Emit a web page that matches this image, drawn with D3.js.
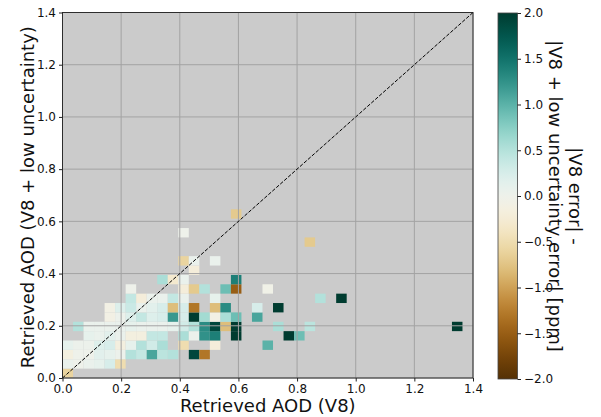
<!DOCTYPE html>
<html><head><meta charset="utf-8">
<script src="https://cdnjs.cloudflare.com/ajax/libs/d3/7.8.5/d3.min.js"></script>
<style>
html,body{margin:0;padding:0;background:#fff;}
svg{display:block;font-family:"DejaVu Sans",sans-serif;}
</style></head>
<body><svg id="c" width="601" height="417"></svg>
<script>
// ---- data: 2D bins (column index, row index, difference value) ----
const nBins = 39;          // bins of linspace(0, 1.4, 40)
const axisMax = 1.4;
const tickValues = [0.0, 0.2, 0.4, 0.6, 0.8, 1.0, 1.2, 1.4];
const cbTicks = [-2.0, -1.5, -1.0, -0.5, 0.0, 0.5, 1.0, 1.5, 2.0];
const xLabel = "Retrieved AOD (V8)";
const yLabel = "Retrieved AOD (V8 + low uncertainty)";
const cbLabel = ["|V8 error| -", "|V8 + low uncertainty error| [ppm]"];

const cellCol = [
 0,
 0,1,2,3,4,5,
 0,1,2,3,4,5,6,7,8,9,10,12,13,
 0,1,2,3,4,5,6,7,8,9,11,14,19,
 2,3,4,5,6,7,8,9,11,12,13,14,16,21,22,
 1,2,3,4,5,6,7,8,9,10,11,12,13,14,15,16,20,23,37,
 4,5,6,7,8,9,10,11,12,13,14,15,16,18,
 4,5,6,7,8,9,10,11,12,14,15,18,20,
 6,7,8,9,10,11,14,24,26,
 6,11,12,13,15,16,19,
 9,10,11,16,
 12,
 11,12,14,
 23,
 11,
 16
];
const cellRow = [
 0,
 1,1,1,1,1,1,
 2,2,2,2,2,2,2,2,2,2,2,2,2,
 3,3,3,3,3,3,3,3,3,3,3,3,3,
 4,4,4,4,4,4,4,4,4,4,4,4,4,4,4,
 5,5,5,5,5,5,5,5,5,5,5,5,5,5,5,5,5,5,5,
 6,6,6,6,6,6,6,6,6,6,6,6,6,6,
 7,7,7,7,7,7,7,7,7,7,7,7,7,
 8,8,8,8,8,8,8,8,8,
 9,9,9,9,9,9,9,
 10,10,10,10,
 11,
 12,12,12,
 14,
 15,
 17
];
const cellValue = [
 -0.6,
 0.05,0.0,0.05,0.1,0.25,-0.5,
 -0.15,0.0,0.0,0.15,0.1,0.02,0.5,0.4,1.1,0.45,0.5,1.9,-1.3,
 0.1,0.02,0.03,0.2,0.25,-0.15,0.1,0.5,0.3,0.55,-0.5,-0.2,1.0,
 0.1,0.05,0.15,0.05,-0.15,-0.15,0.4,0.4,0.55,0.02,1.25,1.4,2.0,2.0,0.9,
 0.5,0.05,0.05,0.05,0.05,0.1,0.05,0.05,0.05,0.1,0.3,0.5,1.3,1.9,-0.8,2.0,0.55,0.45,2.0,
 -0.1,0.03,0.2,0.4,0.2,0.25,1.2,0.25,2.0,0.6,-0.1,0.55,0.9,1.1,
 -0.1,0.2,0.35,0.05,0.15,0.25,-0.8,0.25,-1.3,-0.8,1.3,0.25,2.0,
 0.4,-0.2,0.05,0.05,0.4,0.05,0.1,0.5,2.0,
 0.0,-0.2,-0.7,0.5,0.9,-1.5,-0.05,
 0.55,-0.3,0.05,1.4,
 -0.2,
 -0.6,0.05,0.05,
 -0.7,
 0.0,
 -0.7
];

// ---- layout ----
const svg = d3.select("#c");
const L = 62.5, R = 473, T = 12.5, B = 378;
const x = d3.scaleLinear().domain([0, axisMax]).range([L, R]);
const y = d3.scaleLinear().domain([0, axisMax]).range([B, T]);
const color = d3.scaleSequential(d3.interpolateBrBG).domain([-2, 2]);
const edges = d3.range(nBins + 1).map(i => axisMax * i / nBins);

svg.append("rect").attr("x", L).attr("y", T).attr("width", R - L).attr("height", B - T).attr("fill", "#cbcbcb");

const cells = cellCol.map((c, i) => ({c, r: cellRow[i], v: cellValue[i]}));
svg.append("g").selectAll("rect").data(cells).join("rect")
  .attr("x", d => x(edges[d.c]))
  .attr("y", d => y(edges[d.r + 1]))
  .attr("width", d => x(edges[d.c + 1]) - x(edges[d.c]))
  .attr("height", d => y(edges[d.r]) - y(edges[d.r + 1]))
  .attr("fill", d => color(d.v));

// grid
const grid = svg.append("g").attr("stroke", "#a3a3a3").attr("stroke-width", 1);
tickValues.forEach(t => {
  grid.append("line").attr("x1", x(t)).attr("x2", x(t)).attr("y1", T).attr("y2", B);
  grid.append("line").attr("y1", y(t)).attr("y2", y(t)).attr("x1", L).attr("x2", R);
});

// 1:1 line
svg.append("line").attr("x1", x(0)).attr("y1", y(0)).attr("x2", x(axisMax)).attr("y2", y(axisMax))
  .attr("stroke", "#000").attr("stroke-width", 1).attr("stroke-dasharray", "3.7,1.6");

// frame
svg.append("rect").attr("x", L).attr("y", T).attr("width", R - L).attr("height", B - T)
  .attr("fill", "none").attr("stroke", "#222").attr("stroke-width", 0.9);

// axes
const fmt = d3.format(".1f");
const xa = svg.append("g").attr("transform", `translate(0,${B})`)
  .call(d3.axisBottom(x).tickValues(tickValues).tickFormat(fmt).tickSize(3.5).tickPadding(3));
const ya = svg.append("g").attr("transform", `translate(${L},0)`)
  .call(d3.axisLeft(y).tickValues(tickValues).tickFormat(fmt).tickSize(3.5).tickPadding(3));
[xa, ya].forEach(a => {
  a.select(".domain").remove();
  a.selectAll("line").attr("stroke", "#222");
  a.selectAll("text").attr("font-size", 12).attr("fill", "#111").attr("font-family", "DejaVu Sans");
});

svg.append("text").attr("x", (L + R) / 2).attr("y", 412).attr("text-anchor", "middle")
  .attr("font-size", 18).attr("fill", "#111").text(xLabel);
svg.append("text").attr("transform", `translate(34,${(T + B) / 2 + 2}) rotate(-90)`).attr("text-anchor", "middle")
  .attr("font-size", 18).attr("fill", "#111").text(yLabel);

// colorbar
const cbL = 498, cbR = 517.5, cbT = 13, cbB = 379;
const cy = d3.scaleLinear().domain([-2, 2]).range([cbB, cbT]);
const defs = svg.append("defs");
const grad = defs.append("linearGradient").attr("id", "cbg").attr("x1", 0).attr("y1", 1).attr("x2", 0).attr("y2", 0);
d3.range(0, 1.0001, 0.02).forEach(t => {
  grad.append("stop").attr("offset", t).attr("stop-color", color(-2 + 4 * t));
});
svg.append("rect").attr("x", cbL).attr("y", cbT).attr("width", cbR - cbL).attr("height", cbB - cbT)
  .attr("fill", "url(#cbg)").attr("stroke", "#444").attr("stroke-width", 0.8);
const cba = svg.append("g").attr("transform", `translate(${cbR},0)`)
  .call(d3.axisRight(cy).tickValues(cbTicks).tickFormat(d => d3.format(".1f")(d).replace("-", "\u2212")).tickSize(3.5).tickPadding(3));
cba.select(".domain").remove();
cba.selectAll("line").attr("stroke", "#222");
cba.selectAll("text").attr("font-size", 12).attr("fill", "#111").attr("font-family", "DejaVu Sans");

const cbMid = (cbT + cbB) / 2;
svg.append("text").attr("transform", `translate(569,${cbMid}) rotate(90)`).attr("text-anchor", "middle")
  .attr("font-size", 18).attr("fill", "#111").text(cbLabel[0]);
svg.append("text").attr("transform", `translate(549,${cbMid}) rotate(90)`).attr("text-anchor", "middle")
  .attr("font-size", 18).attr("fill", "#111").text(cbLabel[1]);
</script></body></html>
